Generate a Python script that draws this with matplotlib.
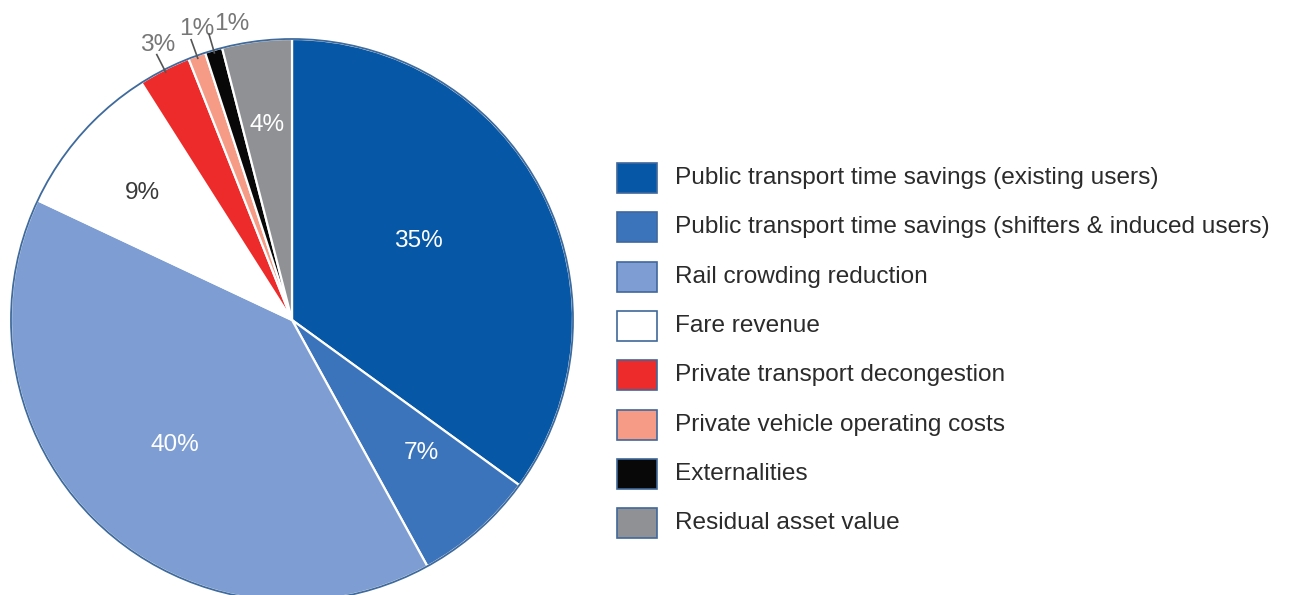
import numpy as np
import matplotlib.pyplot as plt
from matplotlib.patches import Circle, Rectangle

plt.rcParams["font.family"] = ["Liberation Sans", "DejaVu Sans"]

# benefit shares (%) going clockwise from 12 o'clock
categories = [
    "Public transport time savings (existing users)",
    "Public transport time savings (shifters & induced users)",
    "Rail crowding reduction",
    "Fare revenue",
    "Private transport decongestion",
    "Private vehicle operating costs",
    "Externalities",
    "Residual asset value",
]
shares = [35, 7, 40, 9, 3, 1, 1, 4]
colors = ["#0657a5", "#3c74bc", "#7e9ed3", "#ffffff",
          "#ee2b2b", "#f59b86", "#080808", "#8f9194"]

# label placement per wedge: fraction of radius, angle nudge (deg), colour
label_r = [0.53, 0.66, 0.61, 0.70, 1.09, 1.09, 1.075, 0.70]
label_dt = [5, 3, 0, 1, -1, -1.6, -4.7, 0]
label_c = ["white", "white", "white", "#3a3a3a", "#777777", "#777777", "#777777", "white"]
outside = [False, False, False, False, True, True, True, False]

W, H = 1290, 595
fig = plt.figure(figsize=(W / 100, H / 100), dpi=100)
ax = fig.add_axes([0, 0, 1, 1])

cx, cy, R = 292, H - 320, 281
wedges, _ = ax.pie(shares, colors=colors, startangle=90, counterclock=False,
                   center=(cx, cy), radius=R,
                   wedgeprops=dict(edgecolor="white", linewidth=1.6))
ax.add_patch(Circle((cx, cy), R, fill=False, edgecolor="#3f6a9c", linewidth=1.3, zorder=3))

for w, val, fr, dt, col, out in zip(wedges, shares, label_r, label_dt, label_c, outside):
    mid = np.deg2rad((w.theta1 + w.theta2) / 2)
    lab = mid + np.deg2rad(dt)
    ax.text(cx + fr * R * np.cos(lab), cy + fr * R * np.sin(lab), f"{val}%",
            ha="center", va="center", fontsize=17.6, color=col, zorder=4)
    if out:
        ux, uy = np.cos(mid), np.sin(mid)
        ax.plot([cx + 0.99 * R * ux, cx + 1.06 * R * ux],
                [cy + 0.99 * R * uy, cy + 1.06 * R * uy],
                color="#555555", linewidth=1.2, zorder=4)

# legend drawn as swatches + labels
top_y, step = H - 178, 49.3
for i, (lab, col) in enumerate(zip(categories, colors)):
    yc = top_y - i * step
    ax.add_patch(Rectangle((617, yc - 15), 40, 30, facecolor=col,
                           edgecolor="#41679c", linewidth=1.2))
    ax.text(675, yc, lab, ha="left", va="center", fontsize=17.6, color="#2b2b2b")

ax.set_xlim(0, W)
ax.set_ylim(0, H)
ax.set_aspect("equal")
ax.axis("off")

fig.savefig("out.png", dpi=100)
